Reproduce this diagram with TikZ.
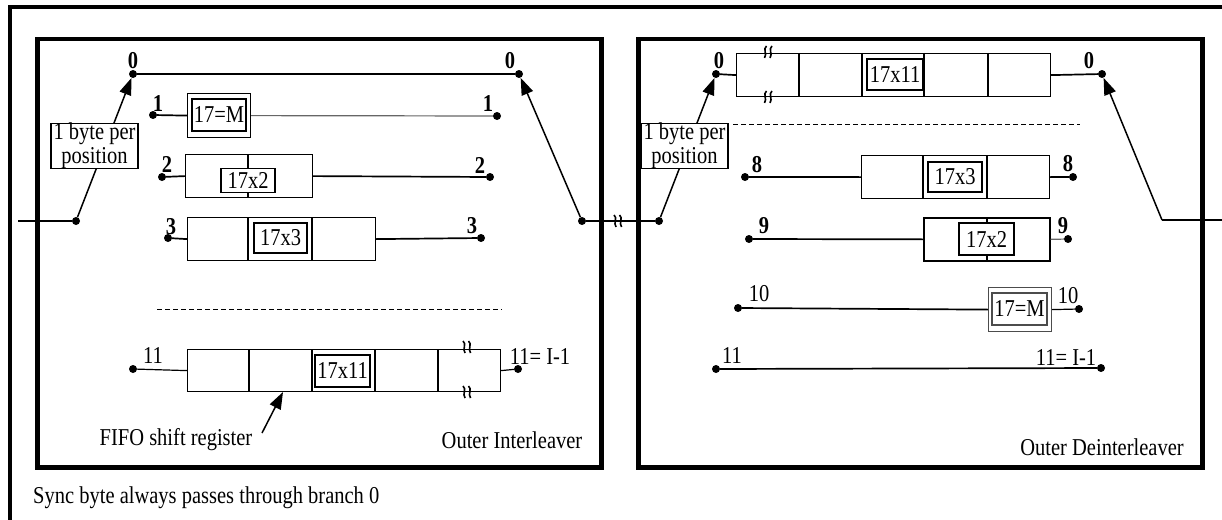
\documentclass[tikz,border=0pt]{standalone}
\usepackage{fontspec}
\usepackage{graphicx}
\setmainfont{Liberation Serif}
\usetikzlibrary{arrows.meta}
\newcommand\tx[1]{\scalebox{1}[1.18]{#1}}
\begin{document}
\begin{tikzpicture}[x=1pt,y=-1pt,font=\fontsize{20.5}{20.5}\selectfont,
  dot/.style={circle,fill=black,inner sep=0pt,minimum size=8pt},
  lbl/.style={inner sep=0pt},
  blbl/.style={inner sep=0pt,font=\fontsize{20.5}{20.5}\selectfont\bfseries},
  reg/.style={draw,line width=1.2pt,inner sep=0pt,anchor=north west},
  inbox/.style={draw,fill=white,line width=1.2pt,inner sep=0pt},
  wire/.style={line width=1.7pt},
  thinwire/.style={line width=1.2pt},
  sw/.style={line width=1.5pt,-{Triangle[length=17pt,width=12pt]}},
  frame/.style={draw,line width=4.5pt,inner sep=0pt,anchor=north west},
  note/.style={draw,fill=white,line width=1.2pt,inner sep=0pt,minimum width=87pt,minimum height=44pt,align=center},
  dashsep/.style={line width=0.9pt,dash pattern=on 5pt off 3pt},
  brk/.pic={\draw[line width=1.6pt] (-4,-6) .. controls (0,-3) and (-5,2) .. (-2,6);
            \draw[line width=1.6pt] (1.5,-6) .. controls (5.5,-3) and (0.5,2) .. (3.5,6);}
]
\useasboundingbox (0,0) rectangle (1222,519);
% outer frame
\begin{scope}
\clip (0,0) rectangle (1222,519);
\draw[line width=4.5pt] (10,7) rectangle (1240,540);
\end{scope}
\node[frame,minimum width=564pt,minimum height=428pt] (ilv) at (35,37) {};
\node[frame,minimum width=564pt,minimum height=428pt] (dlv) at (636,37) {};

% ---------------- Interleaver ----------------
\coordinate (in) at (18,221);
\node[dot] (sw1) at (76,221) {};
\node[dot] (a0) at (133,74) {};
\node[dot] (b0) at (519,74) {};
\node[dot] (a1) at (153,115) {};
\node[dot] (b1) at (497,116) {};
\node[dot] (a2) at (162,177) {};
\node[dot] (b2) at (490,177) {};
\node[dot] (a3) at (168,238) {};
\node[dot] (b3) at (481,238) {};
\node[dot] (a11) at (133,369) {};
\node[dot] (b11) at (518,369) {};
\node[dot] (sw2) at (582,221) {};

\draw[wire] (in) -- (sw1);
\draw[sw] (sw1) -- (a0);
\draw[thinwire] (a0) -- (b0);
\draw[sw] (sw2) -- (b0);
\node[note] (n1) at (94.5,146) {\tx{1 byte per}\\[1.5pt]\tx{position}};

% row 1
\node[reg,minimum width=63pt,minimum height=44pt] (r1) at (187,93) {};
\node[inbox,minimum width=54pt,minimum height=32pt] (m1) at (219,115) {\tx{17=M}};
\draw[wire] (a1) -- (r1.west);
\draw[thinwire,black!60] (r1.east) -- (b1);

% row 2
\node[reg,minimum width=127pt,minimum height=43pt] (r2) at (185,154) {};
\draw[thinwire] (248,154) -- (248,197);
\node[inbox,minimum width=54pt,minimum height=24pt] (m2) at (248,180.5) {\tx{17x2}};
\draw[wire] (a2) -- (r2.west);
\draw[wire] (r2.east) -- (b2);

% row 3
\node[reg,minimum width=188pt,minimum height=43pt] (r3) at (187,217) {};
\draw[thinwire] (248,217) -- (248,260) (312,217) -- (312,260);
\node[inbox,minimum width=53pt,minimum height=30pt] (m3) at (280.5,238) {\tx{17x3}};
\draw[wire] (a3) -- (r3.west);
\draw[wire] (r3.east) -- (b3);

\draw[dashsep] (157,309) -- (502,309);

% row 11
\node[reg,minimum width=313pt,minimum height=42pt] (r11) at (187,349) {};
\draw[thinwire] (249,349) -- (249,391) (312,349) -- (312,391) (375,349) -- (375,391) (438,349) -- (438,391);
\node[inbox,minimum width=55pt,minimum height=32pt] (m11) at (342.5,371) {\tx{17x11}};
\draw[thinwire] (a11) -- (r11.west);
\draw[thinwire] (r11.east) -- (b11);
\pic at (467,347) {brk};
\pic at (467,392) {brk};

% labels
\node[blbl] at (133,61) {\tx{0}};
\node[blbl] at (510,61) {\tx{0}};
\node[blbl] at (158,104) {\tx{1}};
\node[blbl] at (488,104) {\tx{1}};
\node[blbl] at (167,164) {\tx{2}};
\node[blbl] at (480,165) {\tx{2}};
\node[blbl] at (171,227) {\tx{3}};
\node[blbl] at (472,226) {\tx{3}};
\node[lbl] at (153,356) {\tx{11}};
\node[lbl] at (540,357) {\tx{11= I-1}};

\node[lbl] (fifo) at (176,440) {\tx{FIFO shift register}};
\coordinate (fifotail) at (262,433);
\coordinate (fifotip) at (283,392);
\draw[sw] (fifotail) -- (fifotip);
\node[lbl] at (512,440) {\tx{Outer Interleaver}};

% ---------------- link ----------------
\node[dot] (sw3) at (659,221) {};
\draw[wire] (sw2) -- (sw3);
\pic at (618,221) {brk};

% ---------------- Deinterleaver ----------------
\node[dot] (c0) at (716,74) {};
\node[dot] (d0) at (1102,74) {};
\node[dot] (c8) at (745,177) {};
\node[dot] (d8) at (1073,177) {};
\node[dot] (c9) at (749,239) {};
\node[dot] (d9) at (1068,239) {};
\node[dot] (c10) at (738,308) {};
\node[dot] (d10) at (1079,309) {};
\node[dot] (c11) at (716,369) {};
\node[dot] (d11) at (1101,368) {};
\coordinate (sw4) at (1162,220);
\coordinate (out) at (1222,220);

\draw[sw] (sw3) -- (c0);
\node[note] (n2) at (684.5,146) {\tx{1 byte per}\\[1.5pt]\tx{position}};
\draw[sw] (sw4) -- (d0);
\draw[thinwire] (sw4) -- (out);

% row 0
\node[reg,minimum width=314pt,minimum height=43pt] (s0) at (736,53) {};
\draw[thinwire] (799,53) -- (799,96) (862,53) -- (862,96) (924,53) -- (924,96) (988,53) -- (988,96);
\node[inbox,minimum width=56pt,minimum height=31pt] (k0) at (895,74.5) {\tx{17x11}};
\draw[wire] (c0) -- (s0.west);
\draw[wire] (s0.east) -- (d0);
\pic[xscale=-1] at (768,52) {brk};
\pic[xscale=-1] at (768,97) {brk};

\draw[dashsep] (733,124) -- (1080,124);

% row 8
\node[reg,minimum width=188pt,minimum height=43pt] (s8) at (861,155) {};
\draw[line width=1.9pt] (923,155) -- (923,198) (987,155) -- (987,198);
\node[inbox,minimum width=54pt,minimum height=30pt] (k8) at (955,177) {\tx{17x3}};
\draw[wire] (c8) -- (s8.west);
\draw[wire] (s8.east) -- (d8);

% row 9
\node[reg,line width=1.7pt,minimum width=126pt,minimum height=43pt] (s9) at (923,217) {};
\draw[thinwire] (987,217) -- (987,260);
\node[inbox,minimum width=55pt,minimum height=32pt] (k9) at (986.5,239) {\tx{17x2}};
\draw[wire] (c9) -- (s9.west);
\draw[thinwire,black!60] (s9.east) -- (d9);

% row 10
\node[reg,draw=black!70,minimum width=63pt,minimum height=44pt] (s10) at (988,287) {};
\node[inbox,draw=black!70,minimum width=55pt,minimum height=32pt] (k10) at (1019.5,309) {\tx{17=M}};
\draw[wire] (c10) -- (s10.west);
\draw[thinwire] (s10.east) -- (d10);

% row 11
\draw[wire] (c11) -- (d11);

% labels
\node[blbl] at (719,61) {\tx{0}};
\node[blbl] at (1089,61) {\tx{0}};
\node[blbl] at (757,165) {\tx{8}};
\node[blbl] at (1068,164) {\tx{8}};
\node[blbl] at (764,226) {\tx{9}};
\node[blbl] at (1063,226) {\tx{9}};
\node[lbl] at (759,294) {\tx{10}};
\node[lbl] at (1068,296) {\tx{10}};
\node[lbl] at (732,356) {\tx{11}};
\node[lbl] at (1066,358) {\tx{11= I-1}};
\node[lbl] at (1102,447) {\tx{Outer Deinterleaver}};

\node[lbl,anchor=west] at (33,498) {\tx{Sync byte always passes through branch 0}};
\end{tikzpicture}
\end{document}
